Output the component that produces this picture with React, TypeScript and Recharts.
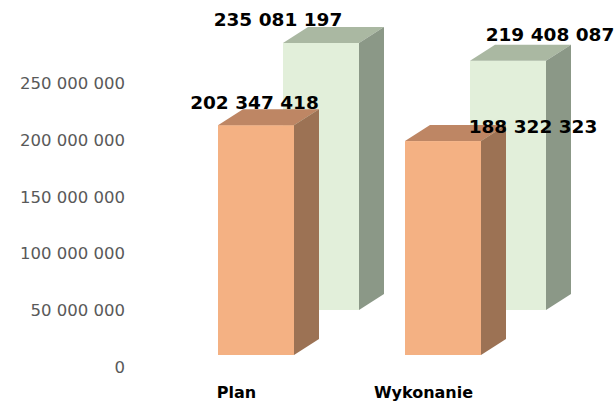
import React from 'react';
import { BarChart, Bar, XAxis, YAxis } from 'recharts';

// ---- data ----
const categories = ['Plan', 'Wykonanie'];
const seriesFront = [202347418, 188322323]; // orange (front row)
const seriesBack = [235081197, 219408087]; // green (back row)
const yTicks = [0, 50000000, 100000000, 150000000, 200000000, 250000000];

const data = categories.map((name, i) => ({
  name,
  front: seriesFront[i],
  back: seriesBack[i],
}));

const fmt = (v: number) => String(v).replace(/\B(?=(\d{3})+(?!\d))/g, ' ');

// ---- 3D styling ----
const DEPTH_X = 25;
const DEPTH_Y = -16;
const BACK_SHIFT_X = 65;
const BACK_SHIFT_Y = -45;

const frontColors = { face: '#F4B183', top: '#BE8664', side: '#9C7254' };
const backColors = { face: '#E2EFDA', top: '#AAB8A2', side: '#8B9887' };

const frontLabelOffsets = [
  [-1.5, -22.5],
  [90, -14.5],
];
const backLabelOffsets = [
  [-43, -23.5],
  [42, -26],
];

function makeBox(
  dataKey: 'front' | 'back',
  colors: { face: string; top: string; side: string },
  shiftX: number,
  shiftY: number,
  labelOffsets: number[][]
) {
  return (props: any) => {
    const { x, y, width, height, index, payload } = props;
    if (x == null || y == null) return <g />;
    const i = typeof index === 'number' ? index : categories.indexOf(payload?.name);
    const x0 = x + shiftX;
    const y0 = y + shiftY;
    const w = width;
    const h = height;
    const v = payload ? payload[dataKey] : 0;
    const lo = labelOffsets[i] || [0, -20];
    const top = `${x0},${y0} ${x0 + DEPTH_X},${y0 + DEPTH_Y} ${x0 + w + DEPTH_X},${y0 + DEPTH_Y} ${x0 + w},${y0}`;
    const side = `${x0 + w},${y0} ${x0 + w + DEPTH_X},${y0 + DEPTH_Y} ${x0 + w + DEPTH_X},${y0 + h + DEPTH_Y} ${x0 + w},${y0 + h}`;
    return (
      <g>
        <rect x={x0} y={y0} width={w} height={h} fill={colors.face} />
        <polygon points={top} fill={colors.top} />
        <polygon points={side} fill={colors.side} />
        <text
          x={x0 + w / 2 + lo[0]}
          y={y0 + lo[1]}
          textAnchor="middle"
          dominantBaseline="central"
          fontFamily="'DejaVu Sans', sans-serif"
          fontWeight="bold"
          fontSize={18.5}
          fill="#000000"
        >
          {fmt(v)}
        </text>
      </g>
    );
  };
}

const frontBox = makeBox('front', frontColors, 0, 0, frontLabelOffsets);
const backBox = makeBox('back', backColors, BACK_SHIFT_X, BACK_SHIFT_Y, backLabelOffsets);

const YTick = (props: any) => {
  const { x, y, payload } = props;
  return (
    <text
      x={x}
      y={y + 12.5}
      textAnchor="end"
      dominantBaseline="central"
      fontFamily="'DejaVu Sans', sans-serif"
      fontSize={16.5}
      fill="#595959"
    >
      {fmt(payload.value)}
    </text>
  );
};

const XTick = (props: any) => {
  const { x, y, payload } = props;
  return (
    <text
      x={x - 19}
      y={y + 13}
      textAnchor="middle"
      fontFamily="'DejaVu Sans', sans-serif"
      fontWeight="bold"
      fontSize={16}
      fill="#000000"
    >
      {payload.value}
    </text>
  );
};

export default function App() {
  return (
    <div style={{ position: 'absolute', left: 0, top: 0, width: 616, height: 402, background: '#ffffff' }}>
      <BarChart
        width={616}
        height={402}
        data={data}
        margin={{ top: 71, right: 80, bottom: 0, left: 0 }}
      >
        <XAxis
          xAxisId="front"
          dataKey="name"
          axisLine={false}
          tickLine={false}
          tickSize={0}
          tickMargin={0}
          height={47}
          interval={0}
          tick={XTick}
        />
        <XAxis xAxisId="back" dataKey="name" hide />
        <YAxis
          width={162}
          domain={[0, 250000000]}
          ticks={yTicks}
          interval={0}
          axisLine={false}
          tickLine={false}
          tickSize={0}
          tickMargin={37}
          tick={YTick}
        />
        <Bar
          xAxisId="back"
          dataKey="back"
          barSize={76}
          shape={backBox}
          isAnimationActive={false}
        />
        <Bar
          xAxisId="front"
          dataKey="front"
          barSize={76}
          shape={frontBox}
          isAnimationActive={false}
        />
      </BarChart>
    </div>
  );
}
